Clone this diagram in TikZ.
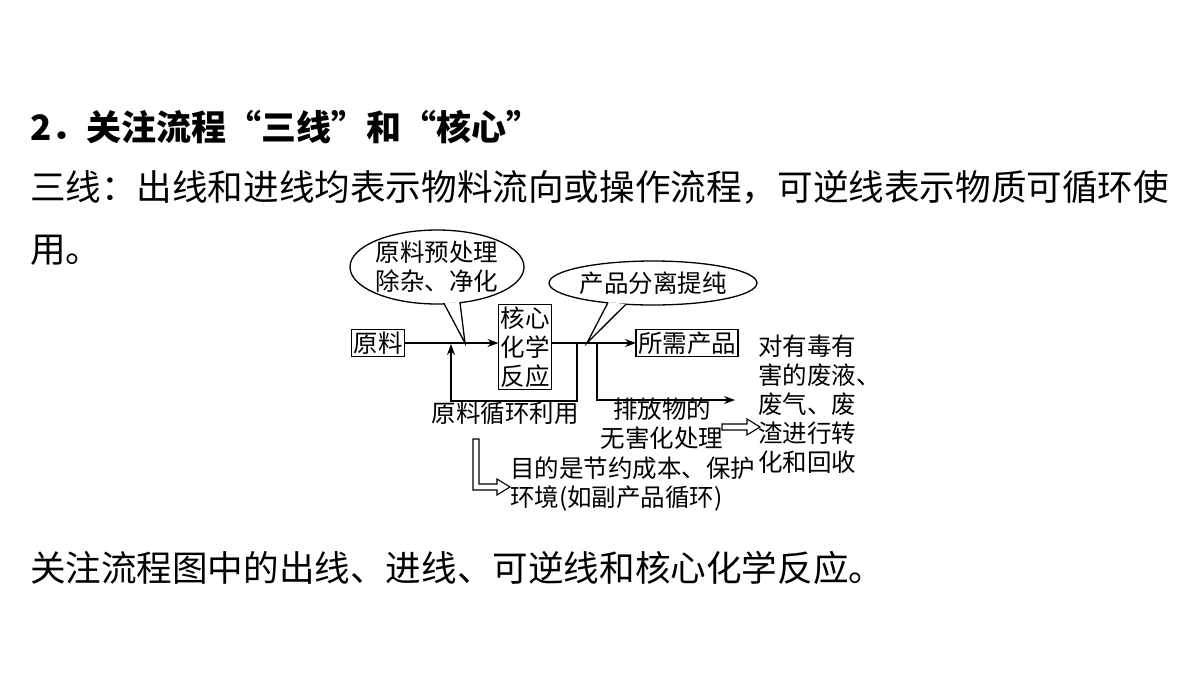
\documentclass[tikz,border=0pt]{standalone}
\usepackage{fontspec}
\setmainfont{Noto Sans CJK SC}
\usetikzlibrary{arrows.meta,shapes.geometric}
\begin{document}
\begin{tikzpicture}[x=1pt,y=-1pt,
  every node/.style={inner sep=0pt,outer sep=0pt},
  ln/.style={line width=1.3pt},
  arr/.style={ln,-{Stealth[length=11pt,width=8pt]}},
  bx/.style={draw,line width=1.3pt,inner sep=2pt,font=\fontsize{24.5}{28}\selectfont},
  dt/.style={font=\fontsize{24.5}{29}\selectfont,align=left},
  body/.style={font=\fontsize{35.6}{40}\selectfont,anchor=west}]
\useasboundingbox (0,0) rectangle (1200,675);
\node[body,font=\fontsize{35}{40}\selectfont\bfseries] (t1) at (30,127) {2．关注流程“三线”和“核心”};
\node[body] (t2) at (30,187) {三线：出线和进线均表示物料流向或操作流程，可逆线表示物质可循环使};
\node[body] (t3) at (30,250) {用。};
\node[body] (t4) at (30,568) {关注流程图中的出线、进线、可逆线和核心化学反应。};
% boxes
\node[bx] (raw) at (378,343) {原料};
\node[bx,align=center,font=\fontsize{24.5}{29}\selectfont] (core) at (525,347) {核心\\化学\\反应};
\node[bx] (prod) at (687,343) {所需产品};
% main flow
\coordinate (c1) at (core.west |- raw);
\draw[arr] (raw.east) -- (c1);
\coordinate (p1) at (core.east |- raw);
\draw[arr] (p1) -- (prod.west);
% recycle loop
\coordinate (r1) at (577,343);
\coordinate (r2) at (577,401);
\coordinate (r3) at (451,401);
\coordinate (r4) at (451,344);
\draw[arr] (r1) -- (r2) -- (r3) -- (r4);
% waste
\coordinate (w1) at (597,343);
\coordinate (w2) at (597,400);
\coordinate (w3) at (735,400);
\draw[arr] (w1) -- (w2) -- (w3);
% callout 1
\node[draw,ln,ellipse,minimum width=174pt,minimum height=74pt,dt,align=center,font=\fontsize{24.5}{29}\selectfont] (e1) at (437,267) {原料预处理\\除杂、净化};
\fill[white] (444.5,303) -- (465,343) -- (459.5,302) -- cycle;
\coordinate (tip1) at (465,343);
\draw[ln] (444,303.5) -- (tip1) -- (460,302.5);
% callout 2
\node[draw,ln,ellipse,minimum width=190pt,minimum height=44pt,dt] (e2) at (653,283) {产品分离提纯};
\fill[white] (608.5,302) -- (587,343) -- (625.5,304) -- cycle;
\coordinate (tip2) at (587,343);
\draw[ln] (608,302.5) -- (tip2) -- (626,304.2);
% labels
\node[dt] (lr) at (505,413) {原料循环利用};
\node[dt,align=center] (lw) at (662,424) {排放物的\\无害化处理};
\node[dt,anchor=north west] (lz) at (758,335) {对有毒有\\害的废液、\\废气、废\\渣进行转\\化和回收};
\node[dt,anchor=north west] (lp) at (510,457) {目的是节约成本、保护\\环境(如副产品循环)};
% hollow arrows
\draw[ln,line width=1.1pt] (722,424) -- (747,424) -- (747,419) -- (760,427) -- (747,435) -- (747,430) -- (722,430) -- cycle;
\draw[ln,line width=1.1pt] (473,439) -- (479,439) -- (479,484) -- (497,484) -- (497,479) -- (510,487) -- (497,495) -- (497,490) -- (473,490) -- cycle;
\end{tikzpicture}
\end{document}
